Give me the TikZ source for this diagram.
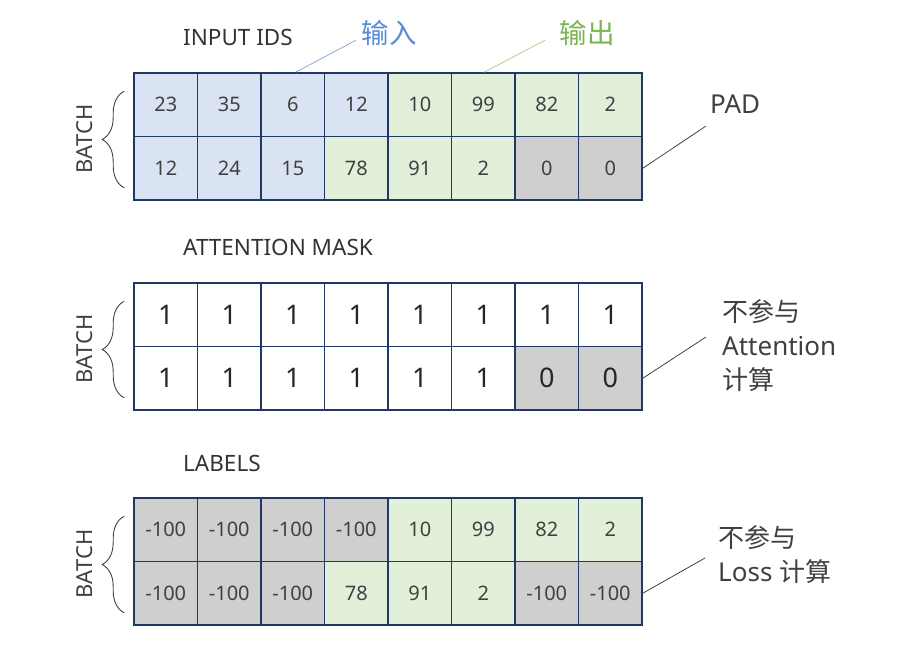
\documentclass[tikz,border=0pt]{standalone}
\usepackage{fontspec}
\setmainfont{Noto Sans}
\newfontfamily\cjk{Noto Sans CJK SC}
\usetikzlibrary{decorations.pathreplacing}

\definecolor{cellblue}{HTML}{DAE3F3}
\definecolor{cellgreen}{HTML}{E2F0D9}
\definecolor{cellgrey}{HTML}{D0CECE}
\definecolor{gridline}{HTML}{1F3864}
\definecolor{txt}{HTML}{404040}
\definecolor{inblue}{HTML}{5B8BD5}
\definecolor{outgreen}{HTML}{7AB450}
\definecolor{inline}{HTML}{8FAADC}
\definecolor{outline}{HTML}{A9D18E}

\tikzset{
  cell/.style={draw=gridline, line width=1.6pt, minimum width=63.5pt, minimum height=63.5pt,
    inner sep=0pt, text=txt, font=\fontsize{20}{20}\selectfont},
  bigcell/.style={cell, text=black!85, font=\fontsize{27}{27}\selectfont},
  title/.style={anchor=west, inner sep=0pt, text=black!80, font=\fontsize{22.5}{22.5}\selectfont},
  batch/.style={rotate=90, inner sep=0pt, text=txt, font=\fontsize{22}{22}\selectfont},
  note/.style={anchor=west, inner sep=2pt, align=left, text=txt, font=\fontsize{26}{34}\selectfont},
  lead/.style={draw=txt, line width=0.8pt},
  bracket/.style={draw=txt, line width=0.9pt, decorate, decoration={brace, amplitude=22pt}}
}

\begin{document}
\begin{tikzpicture}[x=1pt, y=-1pt]
  \useasboundingbox (0,0) rectangle (906,659);

  % input ids
  \node[title] (t-ids) at (183,37) {INPUT IDS};
  \foreach \v/\c [count=\i] in {23/cellblue,35/cellblue,6/cellblue,12/cellblue,10/cellgreen,99/cellgreen,82/cellgreen,2/cellgreen}
    \node[cell, fill=\c] (ids-1-\i) at ({102.25+63.5*\i},104.75) {\v};
  \foreach \v/\c [count=\i] in {12/cellblue,24/cellblue,15/cellblue,78/cellgreen,91/cellgreen,2/cellgreen,0/cellgrey,0/cellgrey}
    \node[cell, fill=\c] (ids-2-\i) at ({102.25+63.5*\i},168.25) {\v};
  \draw[bracket] ([shift={(-9pt,13pt)}]ids-2-1.south west) -- ([shift={(-9pt,-19pt)}]ids-1-1.north west);
  \node[batch] (b-ids) at (85,139) {BATCH};

  \node[inner sep=2pt, text=inblue, font=\cjk\fontsize{27.5}{27.5}\selectfont] (in) at (389,33) {输入};
  \node[inner sep=2pt, text=outgreen, font=\cjk\fontsize{27.5}{27.5}\selectfont] (out) at (587,33) {输出};
  \draw[draw=inline, line width=0.8pt] ([xshift=3pt]ids-1-3.north) -- ([shift={(-3pt,-7pt)}]in.west);
  \draw[draw=outline, line width=0.8pt] ([xshift=1pt]ids-1-6.north) -- ([shift={(-12pt,-7pt)}]out.west);

  \node[note] (pad) at (708,104) {PAD};
  \draw[lead] (ids-2-8.east) -- ([shift={(-2pt,-22pt)}]pad.west);

  % attention mask
  \node[title] (t-mask) at (183,247) {ATTENTION MASK};
  \foreach \i in {1,...,8}
    \node[bigcell, fill=white] (mask-1-\i) at ({102.25+63.5*\i},314.75) {1};
  \foreach \v/\c [count=\i] in {1/white,1/white,1/white,1/white,1/white,1/white,0/cellgrey,0/cellgrey}
    \node[bigcell, fill=\c] (mask-2-\i) at ({102.25+63.5*\i},378.25) {\v};
  \draw[bracket] ([shift={(-9pt,13pt)}]mask-2-1.south west) -- ([shift={(-9pt,-19pt)}]mask-1-1.north west);
  \node[batch] (b-mask) at (85,349) {BATCH};

  \node[note] (att) at (720,346) {{\cjk 不参与}\\Attention\\{\cjk 计算}};
  \draw[lead] (mask-2-8.east) -- ([shift={(-14pt,9pt)}]att.west);

  % labels
  \node[title] (t-lab) at (183,463) {LABELS};
  \foreach \v/\c [count=\i] in {-100/cellgrey,-100/cellgrey,-100/cellgrey,-100/cellgrey,10/cellgreen,99/cellgreen,82/cellgreen,2/cellgreen}
    \node[cell, fill=\c] (lab-1-\i) at ({102.25+63.5*\i},529.75) {\v};
  \foreach \v/\c [count=\i] in {-100/cellgrey,-100/cellgrey,-100/cellgrey,78/cellgreen,91/cellgreen,2/cellgreen,-100/cellgrey,-100/cellgrey}
    \node[cell, fill=\c] (lab-2-\i) at ({102.25+63.5*\i},593.25) {\v};
  \draw[bracket] ([shift={(-9pt,13pt)}]lab-2-1.south west) -- ([shift={(-9pt,-19pt)}]lab-1-1.north west);
  \node[batch] (b-lab) at (85,564) {BATCH};

  \node[note] (loss) at (716,555) {{\cjk 不参与}\\Loss {\cjk 计算}};
  \draw[lead] (lab-2-8.east) -- ([shift={(-11pt,-3pt)}]loss.west);
\end{tikzpicture}
\end{document}
